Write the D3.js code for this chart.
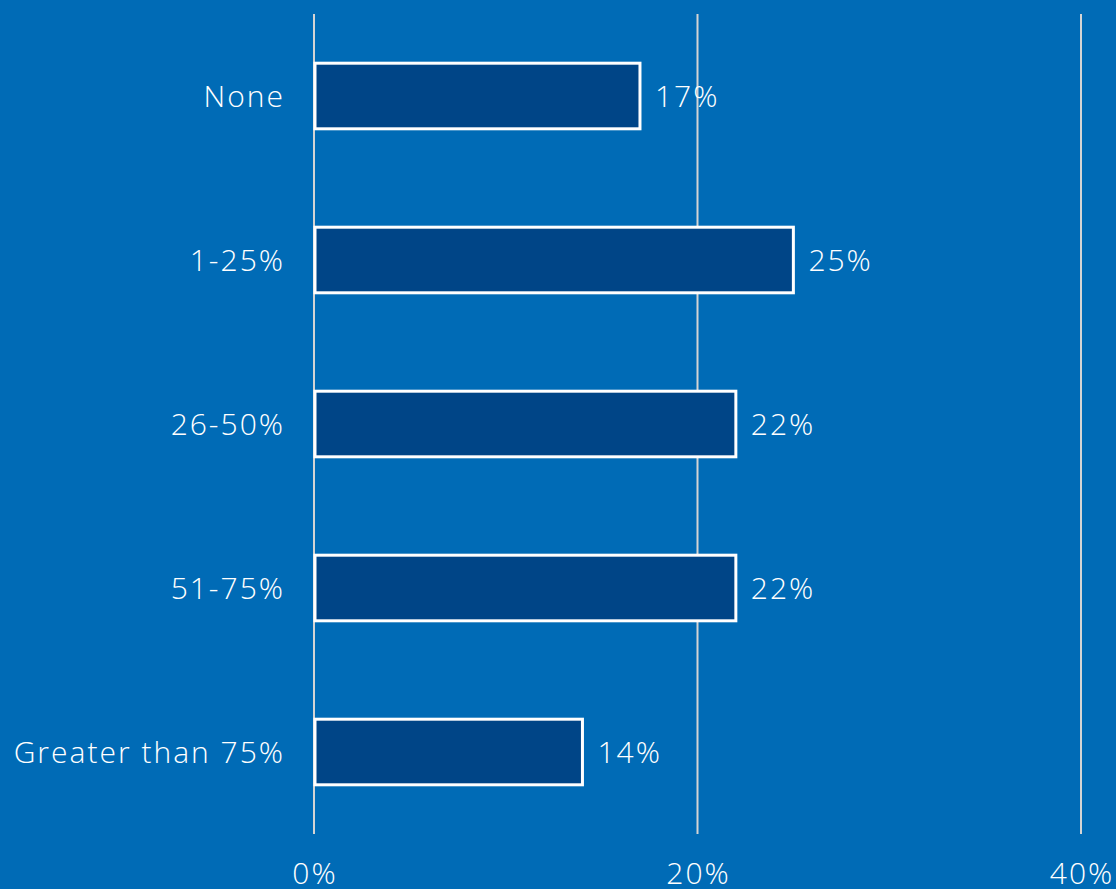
<!DOCTYPE html>
<html><head><meta charset="utf-8">
<script src="https://cdn.jsdelivr.net/npm/d3@7"></script>
<style>
html,body{margin:0;padding:0;background:#006BB6;overflow:hidden}
text{font-family:"Open Sans","Noto Sans",sans-serif;font-weight:300;fill:#fff;letter-spacing:2px}
</style></head>
<body>
<svg id="c" width="1116" height="889"></svg>
<script>
const categories = ["None","1-25%","26-50%","51-75%","Greater than 75%"];
const values = [17,25,22,22,14];
const tickValues = [0,20,40];
const tickLabels = ["0%","20%","40%"];

const svg = d3.select("#c");
svg.append("rect").attr("width",1116).attr("height",889).attr("fill","#006BB6");

const x = d3.scaleLinear().domain([0,40]).range([314,1081]);
const y = d3.scaleBand().domain(categories).range([14,834]).paddingInner(0.6).paddingOuter(0.3);

svg.append("g").selectAll("line").data(tickValues).join("line")
  .attr("x1",d=>x(d)).attr("x2",d=>x(d)).attr("y1",14).attr("y2",834)
  .attr("stroke","#d4d4d4").attr("stroke-width",2);

svg.append("g").selectAll("text").data(tickValues).join("text")
  .attr("x",d=>x(d)+1).attr("y",884).attr("text-anchor","middle")
  .style("font-size","30px").text((d,i)=>tickLabels[i]);

svg.append("g").selectAll("rect").data(values).join("rect")
  .attr("x",x(0)+1).attr("y",(d,i)=>y(categories[i]))
  .attr("width",d=>x(d)-x(0)-1).attr("height",y.bandwidth())
  .attr("fill","#004587").attr("stroke","#fff").attr("stroke-width",3);

svg.append("g").selectAll("text").data(values).join("text")
  .attr("x",d=>x(d)+15).attr("y",(d,i)=>y(categories[i])+y.bandwidth()/2)
  .attr("dy","0.36em").style("font-size","30px").text(d=>d+"%");

svg.append("g").selectAll("text").data(categories).join("text")
  .attr("x",285).attr("y",d=>y(d)+y.bandwidth()/2)
  .attr("dy","0.36em").attr("text-anchor","end").style("font-size","30px").text(d=>d);
</script>
</body></html>
